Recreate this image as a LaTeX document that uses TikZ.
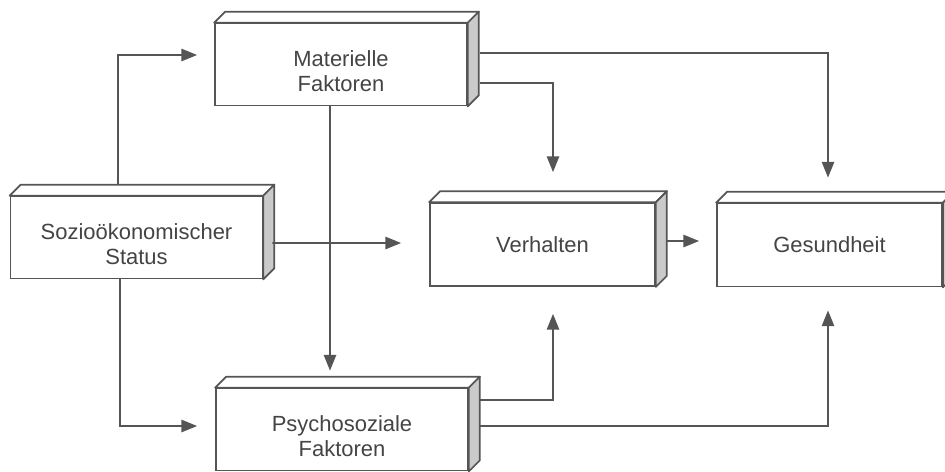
\documentclass[tikz,border=0pt]{standalone}
\usepackage{fontspec}
\setmainfont{Liberation Sans}
\usepackage{tikz}
\usetikzlibrary{arrows.meta,positioning,calc}
\definecolor{linegray}{HTML}{555555}
\definecolor{sidegray}{HTML}{CACACA}
\definecolor{textgray}{HTML}{444444}
\newcommand{\lowstrut}{\rule{0pt}{17pt}}

\begin{document}
\begin{tikzpicture}[x=0.02cm, y=-0.02cm, >={Triangle[length=9pt,width=7pt]},
        box/.style={draw=linegray, line width=1pt, fill=white, align=center,
          text=textgray, font=\fontsize{12.5}{14.2}\selectfont, inner sep=0pt},
        widebox/.style={box, minimum width=5.04cm, minimum height=1.64cm},
        smallbox/.style={box, minimum width=4.5cm, minimum height=1.66cm},
        face/.style={draw=linegray, line width=1pt, fill=white, line join=round},
        sideface/.style={face, fill=sidegray},
        arr/.style={->, draw=linegray, line width=1.1pt}]
        \clip (0,0) rectangle (945,471);

        \node[widebox] (soz) at (136.5,237.5) {\lowstrut Sozioökonomischer\\Status};
        \node[widebox] (mat) at (341,64.5) {\lowstrut Materielle\\Faktoren};
        \node[widebox] (psy) at (342,429.5) {\lowstrut Psychosoziale\\Faktoren};
        \node[smallbox] (verh) at (542.5,244.5) {Verhalten};
        \node[smallbox] (ges) at (829.5,245) {Gesundheit};

        % top and side faces
        \foreach \n in {soz,mat,psy,verh,ges} {
          \draw[face] (\n.north west) -- ++(11,-11) -- ($(\n.north east)+(11,-11)$) -- (\n.north east) -- cycle;
          \draw[sideface] (\n.north east) -- ++(11,-11) -- ($(\n.south east)+(11,-11)$) -- (\n.south east) -- cycle;
        }

        % from status
        \draw[arr] ($(soz.north)+(-18.5,-12)$) |- ($(mat.west)+(-17,-9.5)$);
        \draw[arr] ($(soz.south)+(-16.5,0)$) |- ($(psy.west)+(-18,-3.5)$);
        \draw[arr] ($(soz.east)+(9,5.5)$) -- ($(verh.west)+(-28,-1.5)$);

        % from material factors
        \draw[arr] ($(mat.south)+(-11,0)$) -- ($(psy.north)+(-12,-17)$);
        \draw[arr] ($(mat.east)+(12,-11.5)$) -| ($(ges.north)+(-1.5,-25)$);
        \draw[arr] ($(mat.east)+(12,18.5)$) -| ($(verh.north)+(10.5,-30)$);

        % from psychosocial factors
        \draw[arr] ($(psy.east)+(11,-29.5)$) -| ($(verh.south)+(10.5,27)$);
        \draw[arr] ($(psy.east)+(11,-3.5)$) -| ($(ges.south)+(-1.5,23)$);

        \draw[arr] ($(verh.east)+(11,-3.5)$) -- ($(ges.west)+(-17,-4)$);
\end{tikzpicture}
\end{document}
